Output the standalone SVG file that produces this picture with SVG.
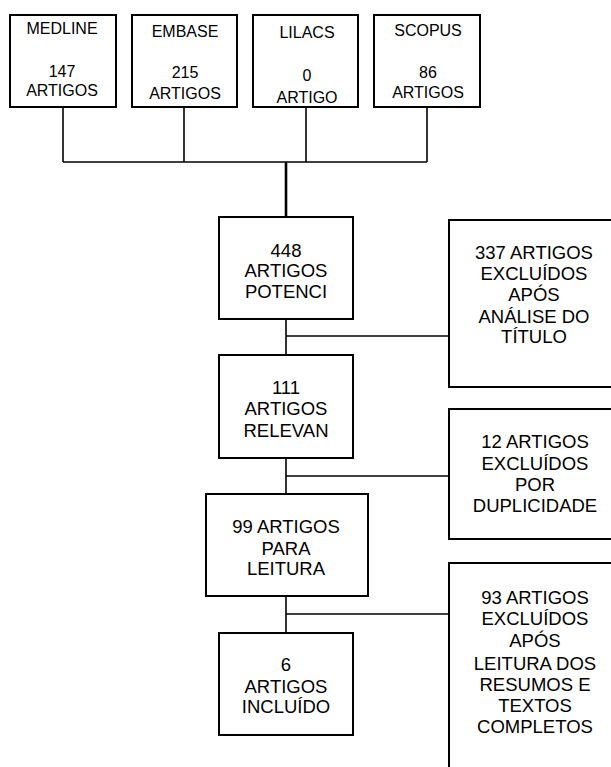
<svg xmlns="http://www.w3.org/2000/svg" width="611" height="767" viewBox="0 0 611 767">
<style>
rect{fill:#fff;stroke:#000;stroke-width:2}
text{font-family:"Liberation Sans",Arial,sans-serif;font-size:18.5px;fill:#000;text-anchor:middle}
.s{font-size:16px}
.c line{stroke:#000;stroke-width:1.6}
</style>
<g class="c" id="connectors">
<line x1="63" y1="107" x2="63" y2="162"/>
<line x1="184" y1="107" x2="184" y2="162"/>
<line x1="306" y1="107" x2="306" y2="162"/>
<line x1="427" y1="107" x2="427" y2="162"/>
<line x1="63" y1="162" x2="427" y2="162"/>
<line x1="286" y1="162" x2="286" y2="217" style="stroke-width:2.6"/>
<line x1="286" y1="319" x2="286" y2="355"/>
<line x1="286" y1="336" x2="449" y2="336"/>
<line x1="286" y1="458" x2="286" y2="494"/>
<line x1="286" y1="476" x2="449" y2="476"/>
<line x1="286" y1="596" x2="286" y2="633"/>
<line x1="286" y1="614" x2="449" y2="614"/>
</g>
<g id="medline"><rect x="10" y="15" width="106" height="92"/>
<text class="s" x="62" y="34">MEDLINE</text><text class="s" x="62" y="77">147</text><text class="s" x="62" y="96">ARTIGOS</text></g>
<g id="embase"><rect x="132" y="15" width="105" height="92"/>
<text class="s" x="185" y="37">EMBASE</text><text class="s" x="185" y="78">215</text><text class="s" x="185" y="99">ARTIGOS</text></g>
<g id="lilacs"><rect x="253" y="15" width="105" height="92"/>
<text class="s" x="307" y="38">LILACS</text><text class="s" x="307" y="81">0</text><text class="s" x="307" y="103">ARTIGO</text></g>
<g id="scopus"><rect x="374" y="15" width="106" height="92"/>
<text class="s" x="428" y="36">SCOPUS</text><text class="s" x="428" y="78">86</text><text class="s" x="428" y="98">ARTIGOS</text></g>
<g id="n448"><rect x="219" y="217" width="134" height="102"/>
<text x="286" y="257">448</text><text x="286" y="277">ARTIGOS</text><text x="286" y="298">POTENCI</text></g>
<g id="ex337"><rect x="449" y="220" width="170" height="167"/>
<text x="534" y="259">337 ARTIGOS</text><text x="534" y="280">EXCLUÍDOS</text><text x="534" y="301">APÓS</text><text x="534" y="323">ANÁLISE DO</text><text x="534" y="343">TÍTULO</text></g>
<g id="n111"><rect x="219" y="355" width="134" height="103"/>
<text x="286" y="394">111</text><text x="286" y="415">ARTIGOS</text><text x="286" y="437">RELEVAN</text></g>
<g id="ex12"><rect x="449" y="409" width="170" height="130"/>
<text x="535" y="448">12 ARTIGOS</text><text x="535" y="470">EXCLUÍDOS</text><text x="535" y="491">POR</text><text x="535" y="512">DUPLICIDADE</text></g>
<g id="n99"><rect x="206" y="494" width="162" height="102"/>
<text x="286" y="533">99 ARTIGOS</text><text x="286" y="555">PARA</text><text x="286" y="575">LEITURA</text></g>
<g id="ex93"><rect x="449" y="563" width="170" height="220"/>
<text x="535" y="604">93 ARTIGOS</text><text x="535" y="625">EXCLUÍDOS</text><text x="535" y="647">APÓS</text><text x="535" y="670">LEITURA DOS</text><text x="535" y="691">RESUMOS E</text><text x="535" y="712">TEXTOS</text><text x="535" y="733">COMPLETOS</text></g>
<g id="n6"><rect x="219" y="633" width="134" height="102"/>
<text x="286" y="671">6</text><text x="286" y="693">ARTIGOS</text><text x="286" y="713">INCLUÍDO</text></g>
</svg>
